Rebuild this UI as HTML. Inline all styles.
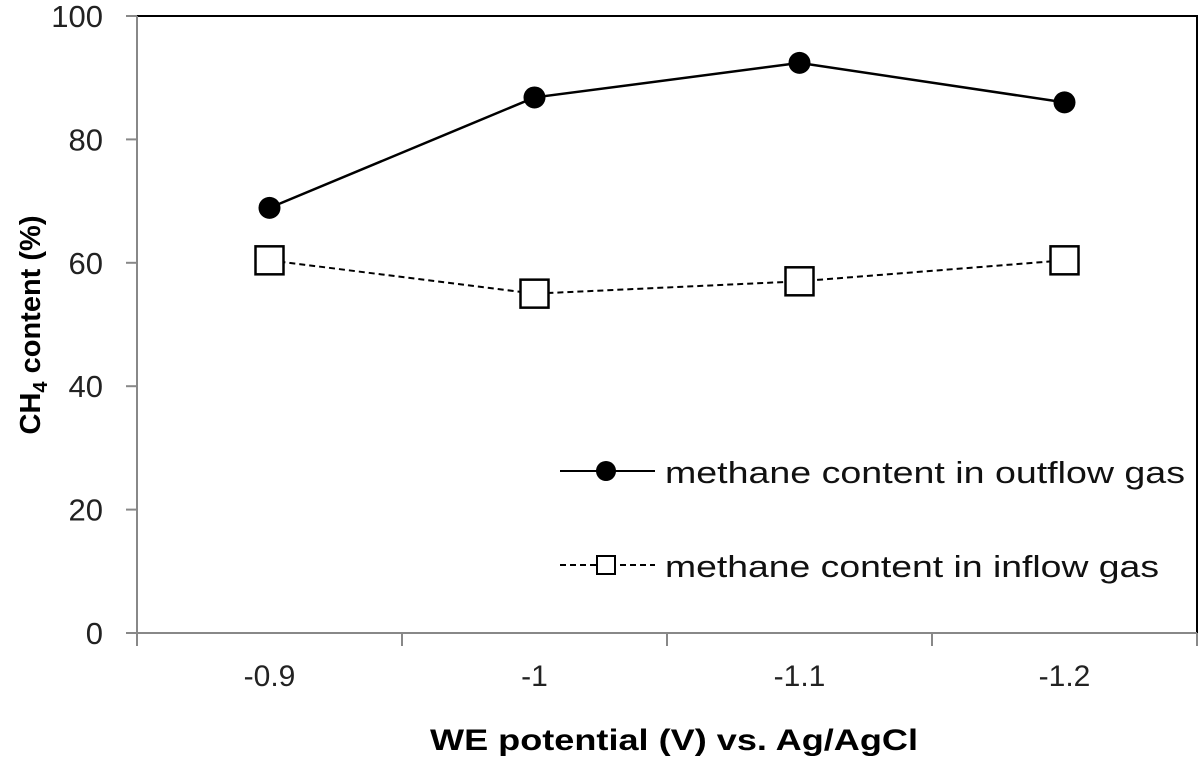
<!DOCTYPE html>
<html><head><meta charset="utf-8"><style>
body{margin:0;background:#fff}
svg{display:block;font-family:"Liberation Sans",Arial,sans-serif}
</style></head><body>
<svg id="chart" width="1200" height="763" viewBox="0 0 1200 763">
<g id="axes"></g>
<g id="series"></g>
<g id="legend">
  <line x1="560" y1="471" x2="655" y2="471" stroke="#000" stroke-width="2"/>
  <circle cx="606" cy="471" r="10" fill="#000"/>
  <text x="665" y="483" font-size="31" textLength="520" lengthAdjust="spacingAndGlyphs" fill="#111">methane content in outflow gas</text>
  <line x1="560" y1="565" x2="655" y2="565" stroke="#000" stroke-width="2" stroke-dasharray="6,4"/>
  <rect x="597" y="556" width="18" height="18" fill="#fff" stroke="#000" stroke-width="2"/>
  <text x="665" y="577" font-size="31" textLength="494" lengthAdjust="spacingAndGlyphs" fill="#111">methane content in inflow gas</text>
</g>
<text x="430" y="750" font-size="30" font-weight="bold" textLength="488" lengthAdjust="spacingAndGlyphs">WE potential (V) vs. Ag/AgCl</text>
<text transform="translate(40,325) rotate(-90)" font-size="29" font-weight="bold" text-anchor="middle">CH<tspan font-size="20" dy="7">4</tspan><tspan dy="-7"> content (%)</tspan></text>
</svg>
<script>
const categories = ["-0.9","-1","-1.1","-1.2"];
const outflow = [68.9, 86.8, 92.4, 86.0];
const inflow = [60.4, 55.0, 57.0, 60.4];
const yTicks = [0,20,40,60,80,100];
const NS="http://www.w3.org/2000/svg";
const L=137,R=1197,T=16,B=633;
const yMin=0,yMax=100;
const band=(R-L)/categories.length;
const xPos=i=>L+band*(i+0.5);
const yPos=v=>B-(v-yMin)/(yMax-yMin)*(B-T);
function mk(tag,attrs,parent){const e=document.createElementNS(NS,tag);for(const k in attrs)e.setAttribute(k,attrs[k]);parent.appendChild(e);return e;}
const ax=document.getElementById('axes');
let e;
e=mk('rect',{x:L,y:T,width:R-L,height:B-T,fill:'none',stroke:'#000','stroke-width':2},ax);


e=mk('line',{x1:L,y1:T,x2:L,y2:B,stroke:'#888','stroke-width':2},ax);


e=mk('line',{x1:L,y1:B,x2:R,y2:B,stroke:'#888','stroke-width':2},ax);


yTicks.forEach(v=>{
  const y=yPos(v);
  e=mk('line',{x1:L-11,y1:y,x2:L,y2:y,stroke:'#888','stroke-width':2},ax);
  
  
  e=mk('text',{x:L-34,y:y+11,'font-size':31,'text-anchor':'end',fill:'#222'},ax);
  
  
  e.textContent=v;
});
for(let i=0;i<=categories.length;i++){
  const x=L+band*i;
  e=mk('line',{x1:x,y1:B,x2:x,y2:B+13,stroke:'#888','stroke-width':2},ax);
  
  
}
categories.forEach((c,i)=>{
  e=mk('text',{x:xPos(i),y:686,'font-size':30,'text-anchor':'middle',fill:'#222'},ax);
  
  
  e.textContent=c;
});
const sg=document.getElementById('series');
const pts=a=>a.map((v,i)=>xPos(i)+','+yPos(v)).join(' ');
e=mk('polyline',{points:pts(outflow),fill:'none',stroke:'#000','stroke-width':2.5},sg);


e=mk('polyline',{points:pts(inflow),fill:'none',stroke:'#000','stroke-width':2,'stroke-dasharray':'6,4'},sg);


outflow.forEach((v,i)=>{
  e=mk('circle',{cx:xPos(i),cy:yPos(v),r:11,fill:'#000'},sg);
  
  
});
inflow.forEach((v,i)=>{
  e=mk('rect',{x:xPos(i)-14,y:yPos(v)-14,width:28,height:28,fill:'#fff',stroke:'#000','stroke-width':2.5},sg);
  
  
});
</script>
</body></html>
